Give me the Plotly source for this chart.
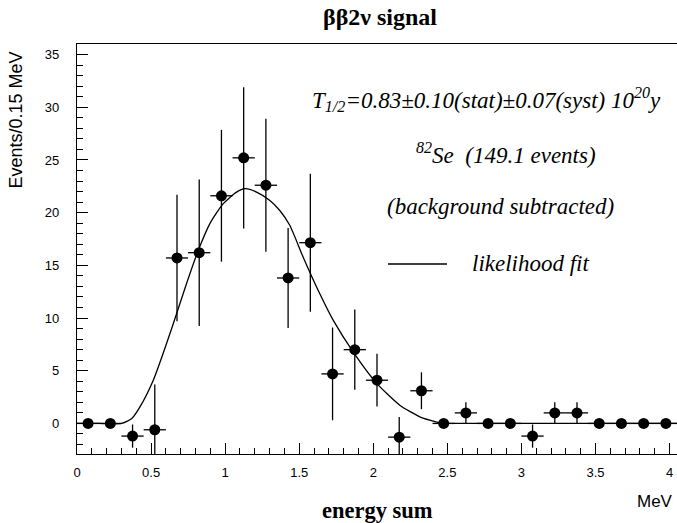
import plotly.graph_objects as go

# ---- data ----
bin_width = 0.15
bin_centers = [0.075 + 0.15 * i for i in range(27)]
counts = [0, 0, -1.2, -0.6, 15.7, 16.2, 21.6, 25.2, 22.6, 13.8, 17.15, 4.7, 7.0,
          4.1, -1.3, 3.1, 0, 1.0, 0, 0, -1.2, 1.0, 1.0, 0, 0, 0, 0]
count_errors = [0, 0, 1.1, 4.3, 6.0, 6.95, 6.25, 6.7, 6.3, 4.75, 6.55, 4.4, 3.8,
                2.5, 1.9, 1.75, 0, 1.0, 0, 0, 1.1, 1.0, 1.0, 0, 0, 0, 0]

fit_x = [0.0, 0.15, 0.30, 0.37, 0.425, 0.515, 0.605, 0.672, 0.74, 0.818, 0.897,
         0.987, 1.077, 1.133, 1.212, 1.30, 1.369, 1.436, 1.526, 1.639, 1.729,
         1.873, 2.023, 2.179, 2.314, 2.449, 2.55, 4.05]
fit_y = [0, 0, 0.0, 0.47, 1.57, 4.1, 7.6, 10.4, 13.3, 16.4, 18.96, 20.85, 21.95,
         22.27, 21.95, 21.17, 20.2, 18.8, 15.8, 12.3, 9.8, 6.6, 3.8, 1.73, 0.63,
         0.06, 0, 0]

x_ticks = [0, 0.5, 1, 1.5, 2, 2.5, 3, 3.5, 4]
y_ticks = [0, 5, 10, 15, 20, 25, 30, 35]

# ---- layout geometry (pixels) ----
W, H = 677, 523
L, R, T, B = 77, 0, 44, 69
PW, PH = W - L - R, H - T - B


def px(xp):
    return (xp - L) / PW


def py(yp):
    return (H - B - yp) / PH


SANS = "Liberation Sans, Arial, Helvetica, sans-serif"
SERIF = "Liberation Serif, Times New Roman, Times, serif"

fig = go.Figure()

fig.add_trace(go.Scatter(
    x=fit_x, y=fit_y, mode="lines",
    line=dict(color="black", width=1.3, shape="spline", smoothing=0.6),
    showlegend=False, hoverinfo="skip"))

fig.add_trace(go.Scatter(
    x=bin_centers, y=counts, mode="markers",
    marker=dict(color="black", size=11, symbol="circle"),
    error_y=dict(type="data", array=count_errors, visible=True,
                 color="black", thickness=1.3, width=0),
    error_x=dict(type="constant", value=bin_width / 2, visible=True,
                 color="black", thickness=1.3, width=0),
    showlegend=False))

axis_common = dict(showline=True, mirror=True, linecolor="black", linewidth=1.3,
                   showgrid=False, zeroline=False, ticks="inside", ticklen=11,
                   tickcolor="black", tickwidth=1,
                   tickfont=dict(family=SANS, size=13, color="black"))

fig.update_xaxes(range=[0, 4.05], tickvals=x_ticks,
                 ticktext=[("%g" % v) for v in x_ticks],
                 minor=dict(ticks="inside", ticklen=6, dtick=0.1, tick0=0,
                            tickcolor="black", tickwidth=1),
                 ticklabelstandoff=6, **axis_common)
fig.update_yaxes(range=[-2.9, 36], tickvals=y_ticks,
                 minor=dict(ticks="inside", ticklen=6, dtick=1, tick0=0,
                            tickcolor="black", tickwidth=1),
                 ticklabelstandoff=14, **axis_common)

ann = []
ann.append(dict(x=px(380), y=py(17), xref="paper", yref="paper",
                text="<b>ββ2ν signal</b>", showarrow=False,
                xanchor="center", yanchor="middle",
                font=dict(family=SERIF, size=24, color="black", weight="bold")))
ann.append(dict(x=px(15.5), y=py(120), xref="paper", yref="paper",
                text="Events/0.15 MeV", textangle=-90, showarrow=False,
                xanchor="center", yanchor="middle",
                font=dict(family=SANS, size=18, color="black")))
ann.append(dict(x=px(675), y=py(501), xref="paper", yref="paper",
                text="MeV", showarrow=False, xanchor="right", yanchor="middle",
                font=dict(family=SANS, size=17, color="black")))
ann.append(dict(x=px(377), y=py(510), xref="paper", yref="paper",
                text="<b>energy sum</b>", showarrow=False,
                xanchor="center", yanchor="middle",
                font=dict(family=SERIF, size=22.5, color="black", weight="bold")))

leg_font = dict(family=SERIF, size=23, color="black", style="italic")
ann.append(dict(x=px(486), y=py(99), xref="paper", yref="paper",
                text="T<sub>1/2</sub>=0.83±0.10(stat)±0.07(syst) 10<sup>20</sup>y",
                showarrow=False, xanchor="center", yanchor="middle", font=leg_font))
ann.append(dict(x=px(506), y=py(153), xref="paper", yref="paper",
                text="<sup>82</sup>Se  (149.1 events)",
                showarrow=False, xanchor="center", yanchor="middle", font=leg_font))
ann.append(dict(x=px(500), y=py(206), xref="paper", yref="paper",
                text="(background subtracted)",
                showarrow=False, xanchor="center", yanchor="middle", font=leg_font))
ann.append(dict(x=px(470), y=py(263), xref="paper", yref="paper",
                text="likelihood fit",
                showarrow=False, xanchor="left", yanchor="middle", font=leg_font))

shapes = [dict(type="line", xref="paper", yref="paper",
               x0=px(388), x1=px(447), y0=py(264), y1=py(264),
               line=dict(color="black", width=1.3))]

fig.update_layout(width=W, height=H, margin=dict(l=L, r=R, t=T, b=B),
                  paper_bgcolor="white", plot_bgcolor="white",
                  annotations=ann, shapes=shapes, showlegend=False)

fig.write_html("out.html")
